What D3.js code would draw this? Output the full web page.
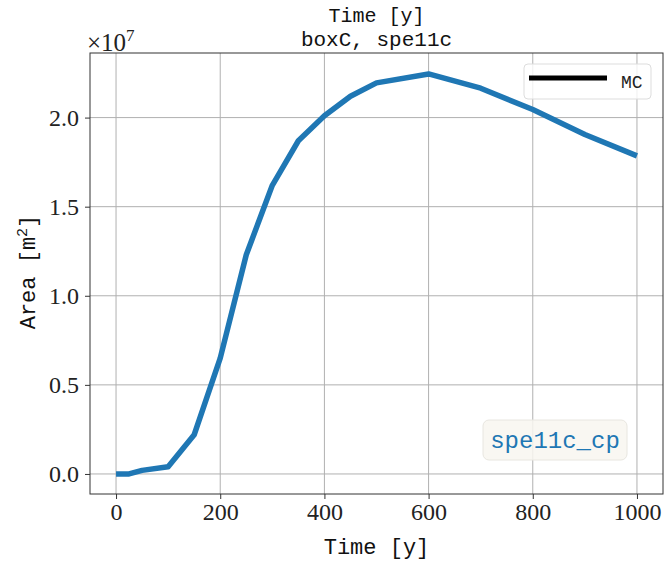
<!DOCTYPE html>
<html><head><meta charset="utf-8">
<script src="https://cdn.jsdelivr.net/npm/d3@7"></script>
<style>body{margin:0;background:#fff}</style>
</head><body>
<svg id="c" width="665" height="563"></svg>
<script>
const years = [0, 25, 50, 100, 150, 200, 250, 300, 350, 400, 450, 500, 600, 700, 800, 900, 1000];
const areaMC = [0.0, 0.0, 0.02e7, 0.04e7, 0.22e7, 0.65e7, 1.23e7, 1.62e7, 1.87e7, 2.01e7, 2.12e7, 2.195e7, 2.245e7, 2.165e7, 2.045e7, 1.905e7, 1.785e7];
const xTicks = [0, 200, 400, 600, 800, 1000];
const yTicks = [0, 0.5e7, 1.0e7, 1.5e7, 2.0e7];
const yTickLabels = ["0.0", "0.5", "1.0", "1.5", "2.0"];
const legendLabels = ["MC"];
const caseLabel = "spe11c_cp";

const svg = d3.select("#c");
const L = 90, T = 53, R = 663, B = 494;
const x = d3.scaleLinear().domain([-50, 1050]).range([L, R]);
const y = d3.scaleLinear().domain([-0.1125e7, 2.3625e7]).range([B, T]);
const serif = "'Liberation Serif', 'DejaVu Serif', serif";
const mono = "'Liberation Mono', 'DejaVu Sans Mono', monospace";

// grid
svg.append("g").selectAll("line").data(xTicks).join("line")
  .attr("x1", d => x(d)).attr("x2", d => x(d)).attr("y1", T).attr("y2", B)
  .attr("stroke", "#b0b0b0").attr("stroke-width", 1);
svg.append("g").selectAll("line").data(yTicks).join("line")
  .attr("y1", d => y(d)).attr("y2", d => y(d)).attr("x1", L).attr("x2", R)
  .attr("stroke", "#b0b0b0").attr("stroke-width", 1);

// axes
const xAxis = d3.axisBottom(x).tickValues(xTicks).tickSize(5).tickPadding(4).tickFormat(d3.format("d"));
const gx = svg.append("g").attr("transform", `translate(0,${B})`).call(xAxis);
gx.select(".domain").remove();
gx.selectAll("text").attr("font-family", serif).attr("font-size", 24).attr("fill", "#222");
gx.selectAll("line").attr("stroke", "#333");

const yAxis = d3.axisLeft(y).tickValues(yTicks).tickSize(5).tickPadding(6).tickFormat((d, i) => yTickLabels[i]);
const gy = svg.append("g").attr("transform", `translate(${L},0)`).call(yAxis);
gy.select(".domain").remove();
gy.selectAll("text").attr("font-family", serif).attr("font-size", 24).attr("fill", "#222");
gy.selectAll("line").attr("stroke", "#333");

// line
const line = d3.line().x((d, i) => x(years[i])).y(d => y(d));
svg.append("path").datum(areaMC).attr("d", line)
  .attr("fill", "none").attr("stroke", "#1f77b4").attr("stroke-width", 5.5)
  .attr("stroke-linejoin", "round");

// frame
svg.append("rect").attr("x", L).attr("y", T).attr("width", R - L).attr("height", B - T)
  .attr("fill", "none").attr("stroke", "#333").attr("stroke-width", 1);

// legend
const lg = svg.append("g");
lg.append("rect").attr("x", 524).attr("y", 64).attr("width", 127).attr("height", 35).attr("rx", 4)
  .attr("fill", "#fff").attr("fill-opacity", 0.8).attr("stroke", "#ddd");
lg.append("line").attr("x1", 529).attr("x2", 607).attr("y1", 78).attr("y2", 78)
  .attr("stroke", "#000").attr("stroke-width", 5);
lg.append("text").attr("x", 621).attr("y", 88).text(legendLabels[0])
  .attr("font-family", mono).attr("font-size", 18).attr("fill", "#222");

// case label box
const cg = svg.append("g");
cg.append("rect").attr("x", 483).attr("y", 420).attr("width", 144).attr("height", 40).attr("rx", 6)
  .attr("fill", "#f8f6f0").attr("fill-opacity", 0.85).attr("stroke", "#e8e6e0");
cg.append("text").attr("x", 555).attr("y", 448).attr("text-anchor", "middle").text(caseLabel)
  .attr("font-family", mono).attr("font-size", 24).attr("fill", "#1f77b4");

// titles
const cx = (L + R) / 2;
svg.append("text").attr("x", cx).attr("y", 22).attr("text-anchor", "middle").text("Time [y]")
  .attr("font-family", mono).attr("font-size", 20).attr("fill", "#111");
svg.append("text").attr("x", cx).attr("y", 46).attr("text-anchor", "middle").text("boxC, spe11c")
  .attr("font-family", mono).attr("font-size", 21).attr("fill", "#111");

// multiplier
const m = svg.append("text").attr("x", 87).attr("y", 51).attr("font-family", serif).attr("font-size", 25).attr("fill", "#222");
m.append("tspan").text("×10");
m.append("tspan").attr("dy", -10).attr("font-size", 17).text("7");

// axis labels
svg.append("text").attr("x", cx).attr("y", 554).attr("text-anchor", "middle").text("Time [y]")
  .attr("font-family", mono).attr("font-size", 22).attr("fill", "#111");
const yl = svg.append("text").attr("transform", `translate(35,272) rotate(-90)`).attr("text-anchor", "middle")
  .attr("font-family", mono).attr("font-size", 22).attr("fill", "#111");
yl.append("tspan").text("Area [m");
yl.append("tspan").attr("dy", -8).attr("font-size", 15).text("2");
yl.append("tspan").attr("dy", 8).text("]");
</script>
</body></html>
